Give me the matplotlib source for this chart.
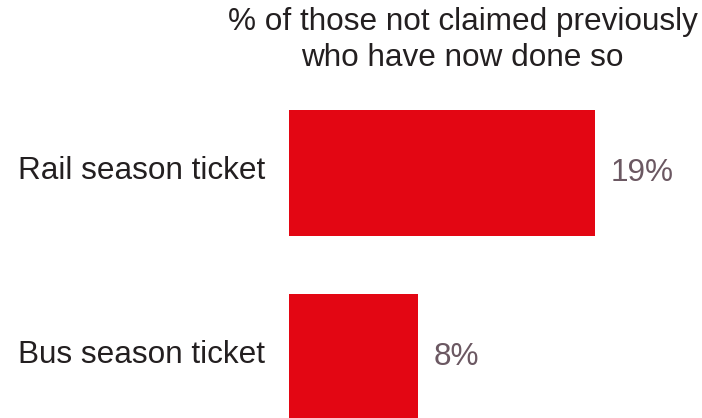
import matplotlib
matplotlib.use("Agg")
import matplotlib.pyplot as plt
from matplotlib.transforms import offset_copy

plt.rcParams['font.family'] = ['Liberation Sans', 'DejaVu Sans']

categories = ["Rail season ticket", "Bus season ticket"]
values = [19, 8]
title = "% of those not claimed previously\nwho have now done so"

bar_red = "#e30613"
text_dark = "#231f20"
value_grey = "#6b5862"

W, H = 702, 418
fig = plt.figure(figsize=(W / 100, H / 100), dpi=100)
ax = fig.add_axes([289 / W, 0, 402.5 / W, 1])

pos = list(range(len(categories)))
ax.barh(pos, values, height=0.685, color=bar_red)
ax.set_xlim(0, 25)
ax.set_ylim(1.332, -0.940)
ax.axis("off")

# category labels to the left of the bars
lab_tr = offset_copy(ax.get_yaxis_transform(), fig=fig, x=-24, y=2, units="dots")
for p, c in zip(pos, categories):
    ax.text(0, p, c, transform=lab_tr, ha="right", va="center",
            fontsize=22.7, color=text_dark)

# value labels after the bar ends
val_tr = offset_copy(ax.transData, fig=fig, x=16, y=0, units="dots")
for p, v in zip(pos, values):
    ax.text(v, p, f"{v}%", transform=val_tr, ha="left", va="center",
            fontsize=22.7, color=value_grey)

fig.text(462.5 / W, 1 - 40 / H, title, ha="center", va="center",
         fontsize=22.7, color=text_dark, linespacing=1.22)

fig.savefig("out.png", dpi=100, facecolor="white")
